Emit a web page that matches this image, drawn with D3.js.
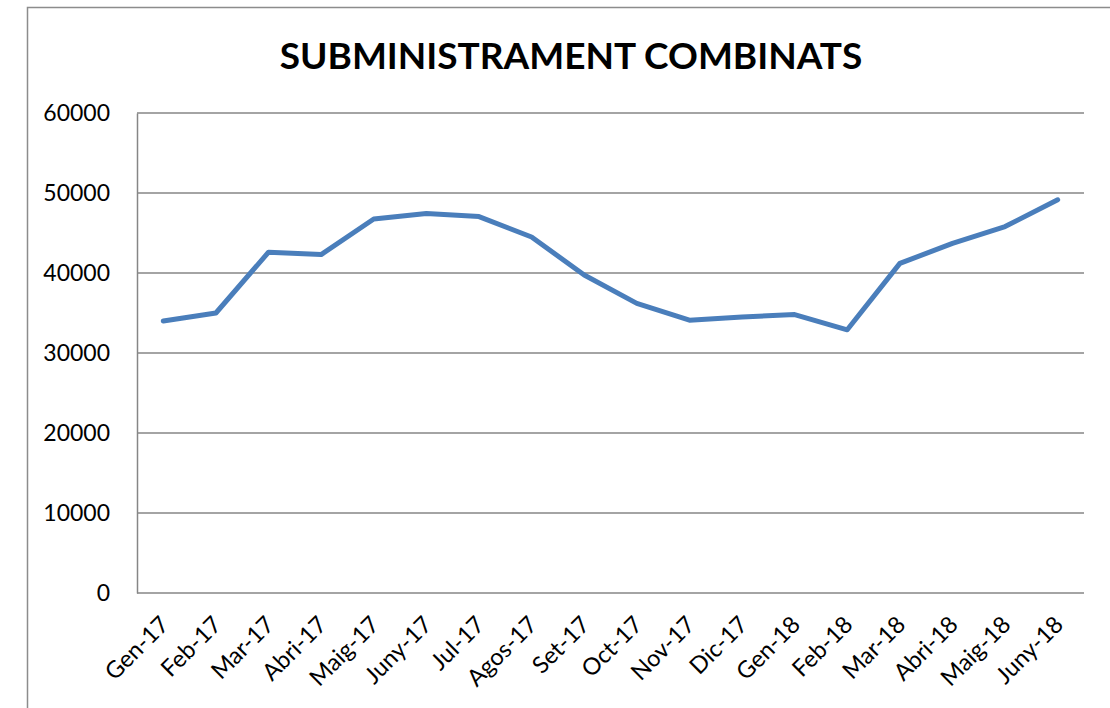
<!DOCTYPE html>
<html>
<head>
  <meta charset="UTF-8" />
  <title>Subministrament combinats</title>
  <script src="https://d3js.org/d3.v7.min.js"></script>
  <style>
    body { margin: 0; background: #fff; }
    text { font-family: Lato, "Open Sans", sans-serif; }
  </style>
</head>
<body>
  <div id="chart"></div>
  <script>
    // data
    const months = ["Gen-17", "Feb-17", "Mar-17", "Abri-17", "Maig-17", "Juny-17", "Jul-17", "Agos-17", "Set-17",
      "Oct-17", "Nov-17", "Dic-17", "Gen-18", "Feb-18", "Mar-18", "Abri-18", "Maig-18", "Juny-18"];
    const values = [34000, 35000, 42600, 42300, 46750, 47450, 47050, 44500, 39750,
      36200, 34100, 34500, 34800, 32900, 41200, 43700, 45800, 49150];
    const yTicks = [0, 10000, 20000, 30000, 40000, 50000, 60000];
    const title = "SUBMINISTRAMENT COMBINATS";

    const width = 1110, height = 708;
    const margin = { top: 113, right: 26, bottom: 115, left: 137 };

    const svg = d3.select("#chart")
      .append("svg")
      .attr("width", width)
      .attr("height", height);

    // chart frame (runs past the right and bottom edges)
    svg.append("rect")
      .attr("x", 27.5)
      .attr("y", 7.5)
      .attr("width", 1200)
      .attr("height", 800)
      .attr("fill", "none")
      .attr("stroke", "#8c8c8c")
      .attr("stroke-width", 1.5);

    const xScale = d3.scaleBand()
      .domain(months)
      .range([margin.left, width - margin.right]);

    const yScale = d3.scaleLinear()
      .domain([0, 60000])
      .range([height - margin.bottom, margin.top]);

    // gridlines
    svg.append("g")
      .selectAll("line")
      .data(yTicks)
      .enter()
      .append("line")
      .attr("x1", margin.left)
      .attr("x2", width - margin.right)
      .attr("y1", d => yScale(d))
      .attr("y2", d => yScale(d))
      .attr("stroke", "#868686")
      .attr("stroke-width", 1.5);

    // y axis
    const yAxis = d3.axisLeft(yScale).tickValues(yTicks).tickSize(0).tickPadding(27).tickFormat(d3.format("d"));
    const gy = svg.append("g")
      .attr("transform", "translate(" + margin.left + ",0)")
      .call(yAxis);
    gy.select(".domain").attr("stroke", "#868686").attr("stroke-width", 1.5);
    gy.selectAll("text")
      .style("font-size", "23px")
      .attr("fill", "#000");

    // x axis, labels turned 45 degrees
    const xAxis = d3.axisBottom(xScale).tickSize(0).tickPadding(0);
    const gx = svg.append("g")
      .attr("transform", "translate(0," + (height - margin.bottom) + ")")
      .call(xAxis);
    gx.select(".domain").remove();
    gx.selectAll("text")
      .style("font-size", "23.5px")
      .attr("fill", "#000")
      .attr("text-anchor", "end")
      .attr("dy", "0")
      .attr("transform", "translate(7,33) rotate(-45)");

    // line
    const line = d3.line()
      .x((d, i) => xScale(months[i]) + xScale.bandwidth() / 2)
      .y(d => yScale(d));

    svg.append("path")
      .datum(values)
      .attr("d", line)
      .attr("fill", "none")
      .attr("stroke", "#4a7ebb")
      .attr("stroke-width", 5)
      .attr("stroke-linejoin", "round")
      .attr("stroke-linecap", "round");

    // title
    svg.append("text")
      .attr("x", 571)
      .attr("y", 69)
      .attr("text-anchor", "middle")
      .style("font-size", "37px")
      .style("font-weight", "bold")
      .text(title);
  </script>
</body>
</html>
